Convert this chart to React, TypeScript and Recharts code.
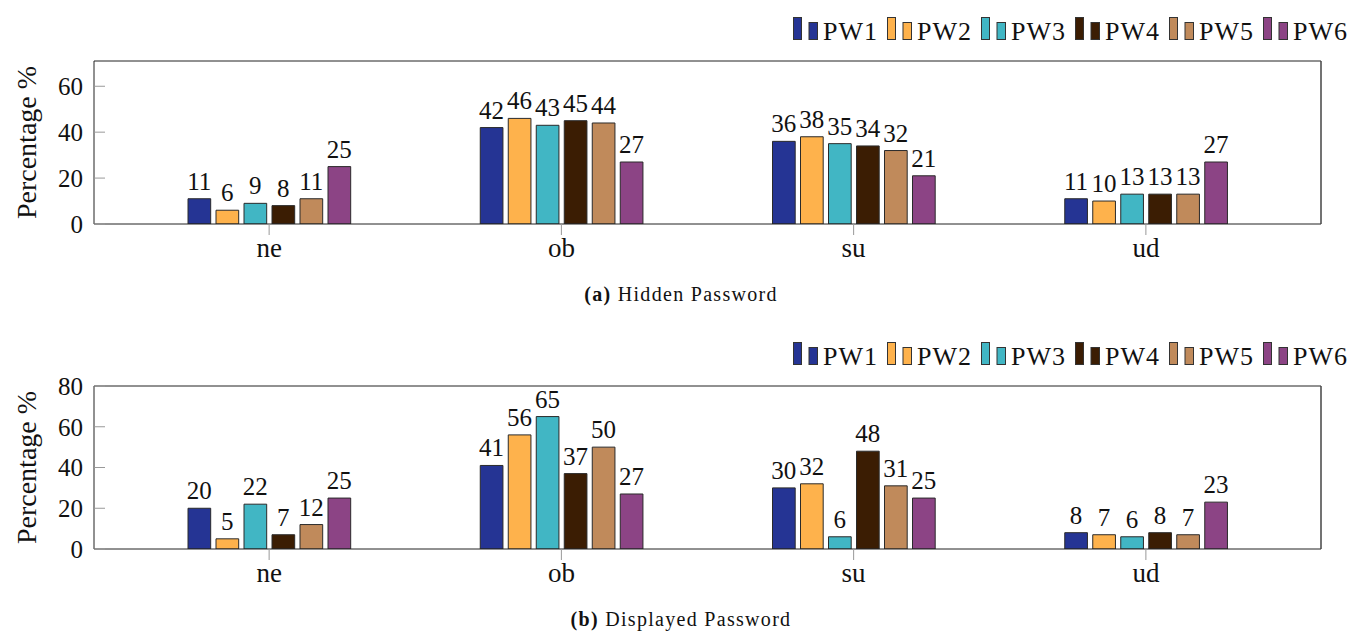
import React from 'react';
import { BarChart, Bar, XAxis, YAxis, Legend, LabelList } from 'recharts';

const FONT = 'Liberation Serif, serif';

const categories = ['ne', 'ob', 'su', 'ud'];
const seriesNames = ['PW1', 'PW2', 'PW3', 'PW4', 'PW5', 'PW6'];
const seriesColors = ['#253494', '#FEB24C', '#41B6C4', '#3B1D03', '#C08A5B', '#8C4485'];

// (a) Hidden Password
const hiddenPW1 = [11, 42, 36, 11];
const hiddenPW2 = [6, 46, 38, 10];
const hiddenPW3 = [9, 43, 35, 13];
const hiddenPW4 = [8, 45, 34, 13];
const hiddenPW5 = [11, 44, 32, 13];
const hiddenPW6 = [25, 27, 21, 27];
const hiddenTicks = [0, 20, 40, 60];
const hiddenMax = 71;

// (b) Displayed Password
const displayedPW1 = [20, 41, 30, 8];
const displayedPW2 = [5, 56, 32, 7];
const displayedPW3 = [22, 65, 6, 6];
const displayedPW4 = [7, 37, 48, 8];
const displayedPW5 = [12, 50, 31, 7];
const displayedPW6 = [25, 27, 25, 23];
const displayedTicks = [0, 20, 40, 60, 80];
const displayedMax = 80;

const buildRows = (series: number[][]) =>
  categories.map((cat, i) => {
    const row: Record<string, string | number> = { cat };
    seriesNames.forEach((n, s) => {
      row[n] = series[s][i];
    });
    return row;
  });

const hiddenData = buildRows([hiddenPW1, hiddenPW2, hiddenPW3, hiddenPW4, hiddenPW5, hiddenPW6]);
const displayedData = buildRows([
  displayedPW1,
  displayedPW2,
  displayedPW3,
  displayedPW4,
  displayedPW5,
  displayedPW6,
]);

const renderLegend = () => (
  <div
    style={{
      display: 'flex',
      justifyContent: 'flex-end',
      alignItems: 'flex-end',
      height: 28,
      fontFamily: FONT,
    }}
  >
    {seriesNames.map((n, i) => (
      <div
        key={n}
        style={{ display: 'flex', alignItems: 'baseline', marginLeft: i === 0 ? 0 : 9 }}
      >
        <svg width={25} height={23} style={{ display: 'block' }}>
          <rect x={0.5} y={0.5} width={8} height={22} fill={seriesColors[i]} stroke="#333" />
          <rect x={16} y={5.5} width={8.5} height={17} fill={seriesColors[i]} stroke="#333" />
        </svg>
        <span
          style={{ fontSize: 26, lineHeight: '26px', marginLeft: 5, letterSpacing: 1, color: '#111' }}
        >
          {n}
        </span>
      </div>
    ))}
  </div>
);

const YTitle = (props: any) => {
  const vb = props.viewBox || { x: 0, y: 0, width: 0, height: 0 };
  const cx = vb.x + 2;
  const cy = vb.y + vb.height / 2;
  return (
    <text
      x={cx}
      y={cy}
      transform={`rotate(-90, ${cx}, ${cy})`}
      textAnchor="middle"
      dominantBaseline="central"
      style={{ fontSize: 28, fontFamily: FONT, fill: '#111' }}
    >
      Percentage %
    </text>
  );
};

const svgText = { fontSize: 25, fontFamily: FONT, fill: '#111' };

type PanelProps = {
  data: Record<string, string | number>[];
  yMax: number;
  yTicks: number[];
  tag: string;
  caption: string;
};

const Panel = ({ data, yMax, yTicks, tag, caption }: PanelProps) => (
  <div style={{ position: 'relative', width: 1351, height: 325 }}>
    <BarChart
      width={1351}
      height={325}
      data={data}
      margin={{ top: 32, right: 20, bottom: 61, left: 24 }}
      barSize={22.7}
      barGap={5.3}
      style={{ fontFamily: FONT }}
    >
      <Legend
        verticalAlign="top"
        align="right"
        content={renderLegend}
        wrapperStyle={{ top: 17, left: 0, width: 1348 }}
      />
      <XAxis
        dataKey="cat"
        padding={{ left: 29, right: 29 }}
        tickSize={11}
        tickMargin={3}
        height={40}
        axisLine={{ stroke: '#222', strokeWidth: 1 }}
        tickLine={{ stroke: '#999', strokeWidth: 1 }}
        tick={{ style: { fontSize: 27, fontFamily: FONT, fill: '#111' } }}
        interval={0}
      />
      <XAxis
        xAxisId="top"
        dataKey="cat"
        orientation="top"
        padding={{ left: 29, right: 29 }}
        tickSize={11}
        height={1}
        tick={false}
        axisLine={{ stroke: '#222', strokeWidth: 1 }}
        tickLine={{ stroke: '#999', strokeWidth: 1 }}
      />
      <YAxis
        width={70}
        domain={[0, yMax]}
        ticks={yTicks}
        allowDataOverflow
        tickSize={-11}
        tickMargin={22}
        axisLine={{ stroke: '#222', strokeWidth: 1 }}
        tickLine={{ stroke: '#999', strokeWidth: 1 }}
        tick={{ style: svgText }}
        label={<YTitle />}
      />
      <YAxis
        yAxisId="right"
        orientation="right"
        width={10}
        domain={[0, yMax]}
        ticks={yTicks}
        allowDataOverflow
        tickSize={-11}
        tick={false}
        axisLine={{ stroke: '#444', strokeWidth: 1.5 }}
        tickLine={{ stroke: '#999', strokeWidth: 1 }}
      />
      {seriesNames.map((n, i) => (
        <Bar
          key={n}
          dataKey={n}
          fill={seriesColors[i]}
          stroke="#2a2a2a"
          strokeWidth={1}
          isAnimationActive={false}
        >
          <LabelList dataKey={n} position="top" offset={9} style={svgText} />
        </Bar>
      ))}
    </BarChart>
    <div
      style={{
        position: 'absolute',
        left: 481,
        width: 400,
        top: 283,
        textAlign: 'center',
        fontFamily: FONT,
        fontSize: 20,
        letterSpacing: 1.3,
        color: '#111',
        whiteSpace: 'nowrap',
      }}
    >
      <b>({tag})</b> {caption}
    </div>
  </div>
);

export default function App() {
  return (
    <div style={{ position: 'absolute', left: 0, top: 0, width: 1351, height: 633, background: '#fff', overflow: 'hidden' }}>
      <div style={{ position: 'absolute', left: 0, top: 0 }}>
        <Panel data={hiddenData} yMax={hiddenMax} yTicks={hiddenTicks} tag="a" caption="Hidden Password" />
      </div>
      <div style={{ position: 'absolute', left: 0, top: 325 }}>
        <Panel
          data={displayedData}
          yMax={displayedMax}
          yTicks={displayedTicks}
          tag="b"
          caption="Displayed Password"
        />
      </div>
    </div>
  );
}
